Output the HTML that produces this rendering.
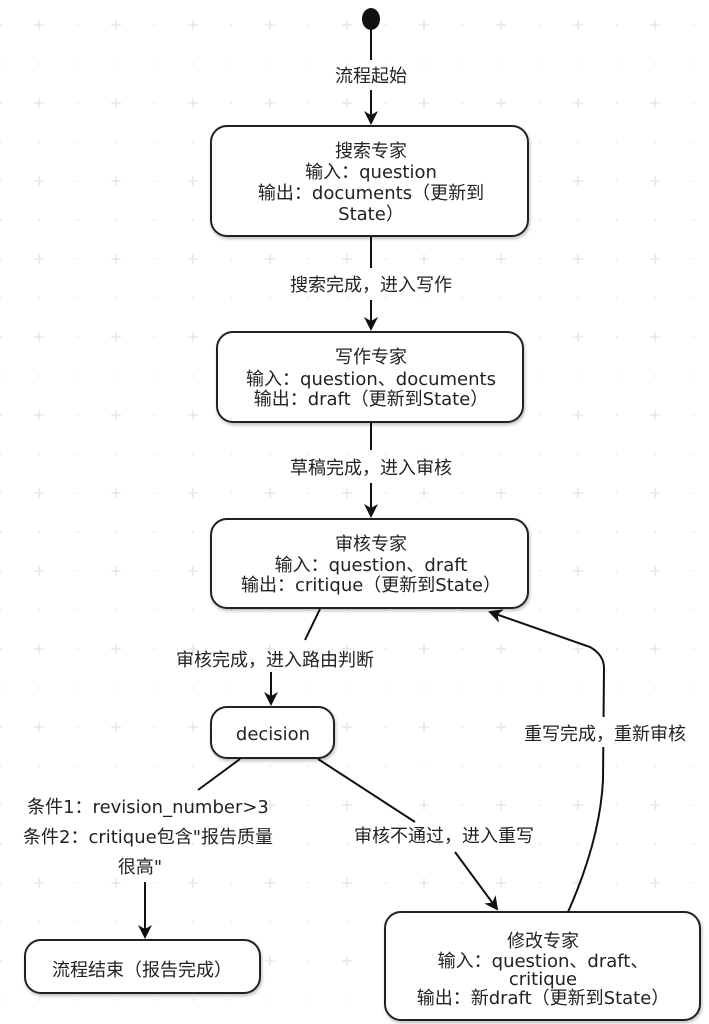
<!DOCTYPE html>
<html><head><meta charset="utf-8"><style>
body{margin:0;width:709px;height:1024px;background:#fff;overflow:hidden}
svg{display:block}
text{font-family:"DejaVu Sans","Noto Sans CJK SC",sans-serif;font-size:18px;fill:#222;text-anchor:middle}
</style></head><body>
<svg width="709" height="1024" viewBox="0 0 709 1024">
<defs>
<pattern id="g" width="38.5" height="39" patternUnits="userSpaceOnUse" x="20" y="6">
<circle cx="19" cy="19" r="1" fill="#e6eaea"/>
</pattern>
<pattern id="p" width="77" height="78" patternUnits="userSpaceOnUse" x="0" y="6">
<path d="M39 14v10M34 19h10" stroke="#e2e8e8" stroke-width="1.5"/>
</pattern>
<marker id="a" markerWidth="14" markerHeight="14" refX="12" refY="7" orient="auto" markerUnits="userSpaceOnUse">
<path d="M0,0 L14,7 L0,14 L4,7 z" fill="#111"/>
</marker>
<filter id="s"><feDropShadow dx="1" dy="2" stdDeviation="1.5" flood-opacity="0.25"/></filter>
</defs>
<rect width="709" height="1024" fill="url(#g)"/>
<rect width="709" height="1024" fill="url(#p)"/>
<g stroke="#111" stroke-width="2" fill="none">
<line x1="371" y1="20" x2="371" y2="60"/>
<line x1="371" y1="90" x2="371" y2="123" marker-end="url(#a)"/>
<line x1="371" y1="237" x2="371" y2="268"/>
<line x1="371" y1="300" x2="371" y2="329" marker-end="url(#a)"/>
<line x1="371" y1="423" x2="371" y2="450"/>
<line x1="371" y1="483" x2="371" y2="516" marker-end="url(#a)"/>
<line x1="320" y1="609" x2="305" y2="640"/>
<line x1="271" y1="672" x2="271" y2="704" marker-end="url(#a)"/>
<line x1="240" y1="759" x2="198" y2="790"/>
<line x1="145" y1="882" x2="145" y2="937" marker-end="url(#a)"/>
<line x1="318" y1="759" x2="415" y2="822"/>
<line x1="455" y1="852" x2="497" y2="909" marker-end="url(#a)"/>
<path d="M568 912 Q600 840 603 780 L604 668 Q604 655 590 647 L490 612" marker-end="url(#a)"/>
</g>
<ellipse cx="371" cy="19" rx="9" ry="11" fill="#111"/>
<g fill="#fff" stroke="#222" stroke-width="2" filter="url(#s)">
<rect x="211" y="126" width="317" height="110" rx="16"/>
<rect x="217" y="332" width="306" height="90" rx="16"/>
<rect x="211" y="519" width="317" height="89" rx="16"/>
<rect x="211" y="707" width="123" height="51" rx="16"/>
<rect x="25" y="940" width="235" height="53" rx="16"/>
<rect x="385" y="912" width="315" height="108" rx="16"/>
</g>
<rect x="510" y="717" width="190" height="30" fill="#fff"/>
<text x="371" y="82">流程起始</text>
<text x="371" y="157">搜索专家</text>
<text x="371" y="178">输入：question</text>
<text x="371" y="199">输出：documents（更新到</text>
<text x="371" y="220">State）</text>
<text x="371" y="291">搜索完成，进入写作</text>
<text x="371" y="363">写作专家</text>
<text x="371" y="385">输入：question、documents</text>
<text x="371" y="405">输出：draft（更新到State）</text>
<text x="371" y="474">草稿完成，进入审核</text>
<text x="371" y="550">审核专家</text>
<text x="371" y="571">输入：question、draft</text>
<text x="371" y="591">输出：critique（更新到State）</text>
<text x="275" y="666">审核完成，进入路由判断</text>
<text x="273" y="740">decision</text>
<text x="148" y="813">条件1：revision_number&gt;3</text>
<text x="148" y="843">条件2：critique包含"报告质量</text>
<text x="140" y="873">很高"</text>
<text x="444" y="842">审核不通过，进入重写</text>
<text x="605" y="740">重写完成，重新审核</text>
<text x="142" y="976">流程结束（报告完成）</text>
<text x="543" y="947">修改专家</text>
<text x="543" y="967">输入：question、draft、</text>
<text x="543" y="985">critique</text>
<text x="543" y="1004">输出：新draft（更新到State）</text>
</svg>
</body></html>
